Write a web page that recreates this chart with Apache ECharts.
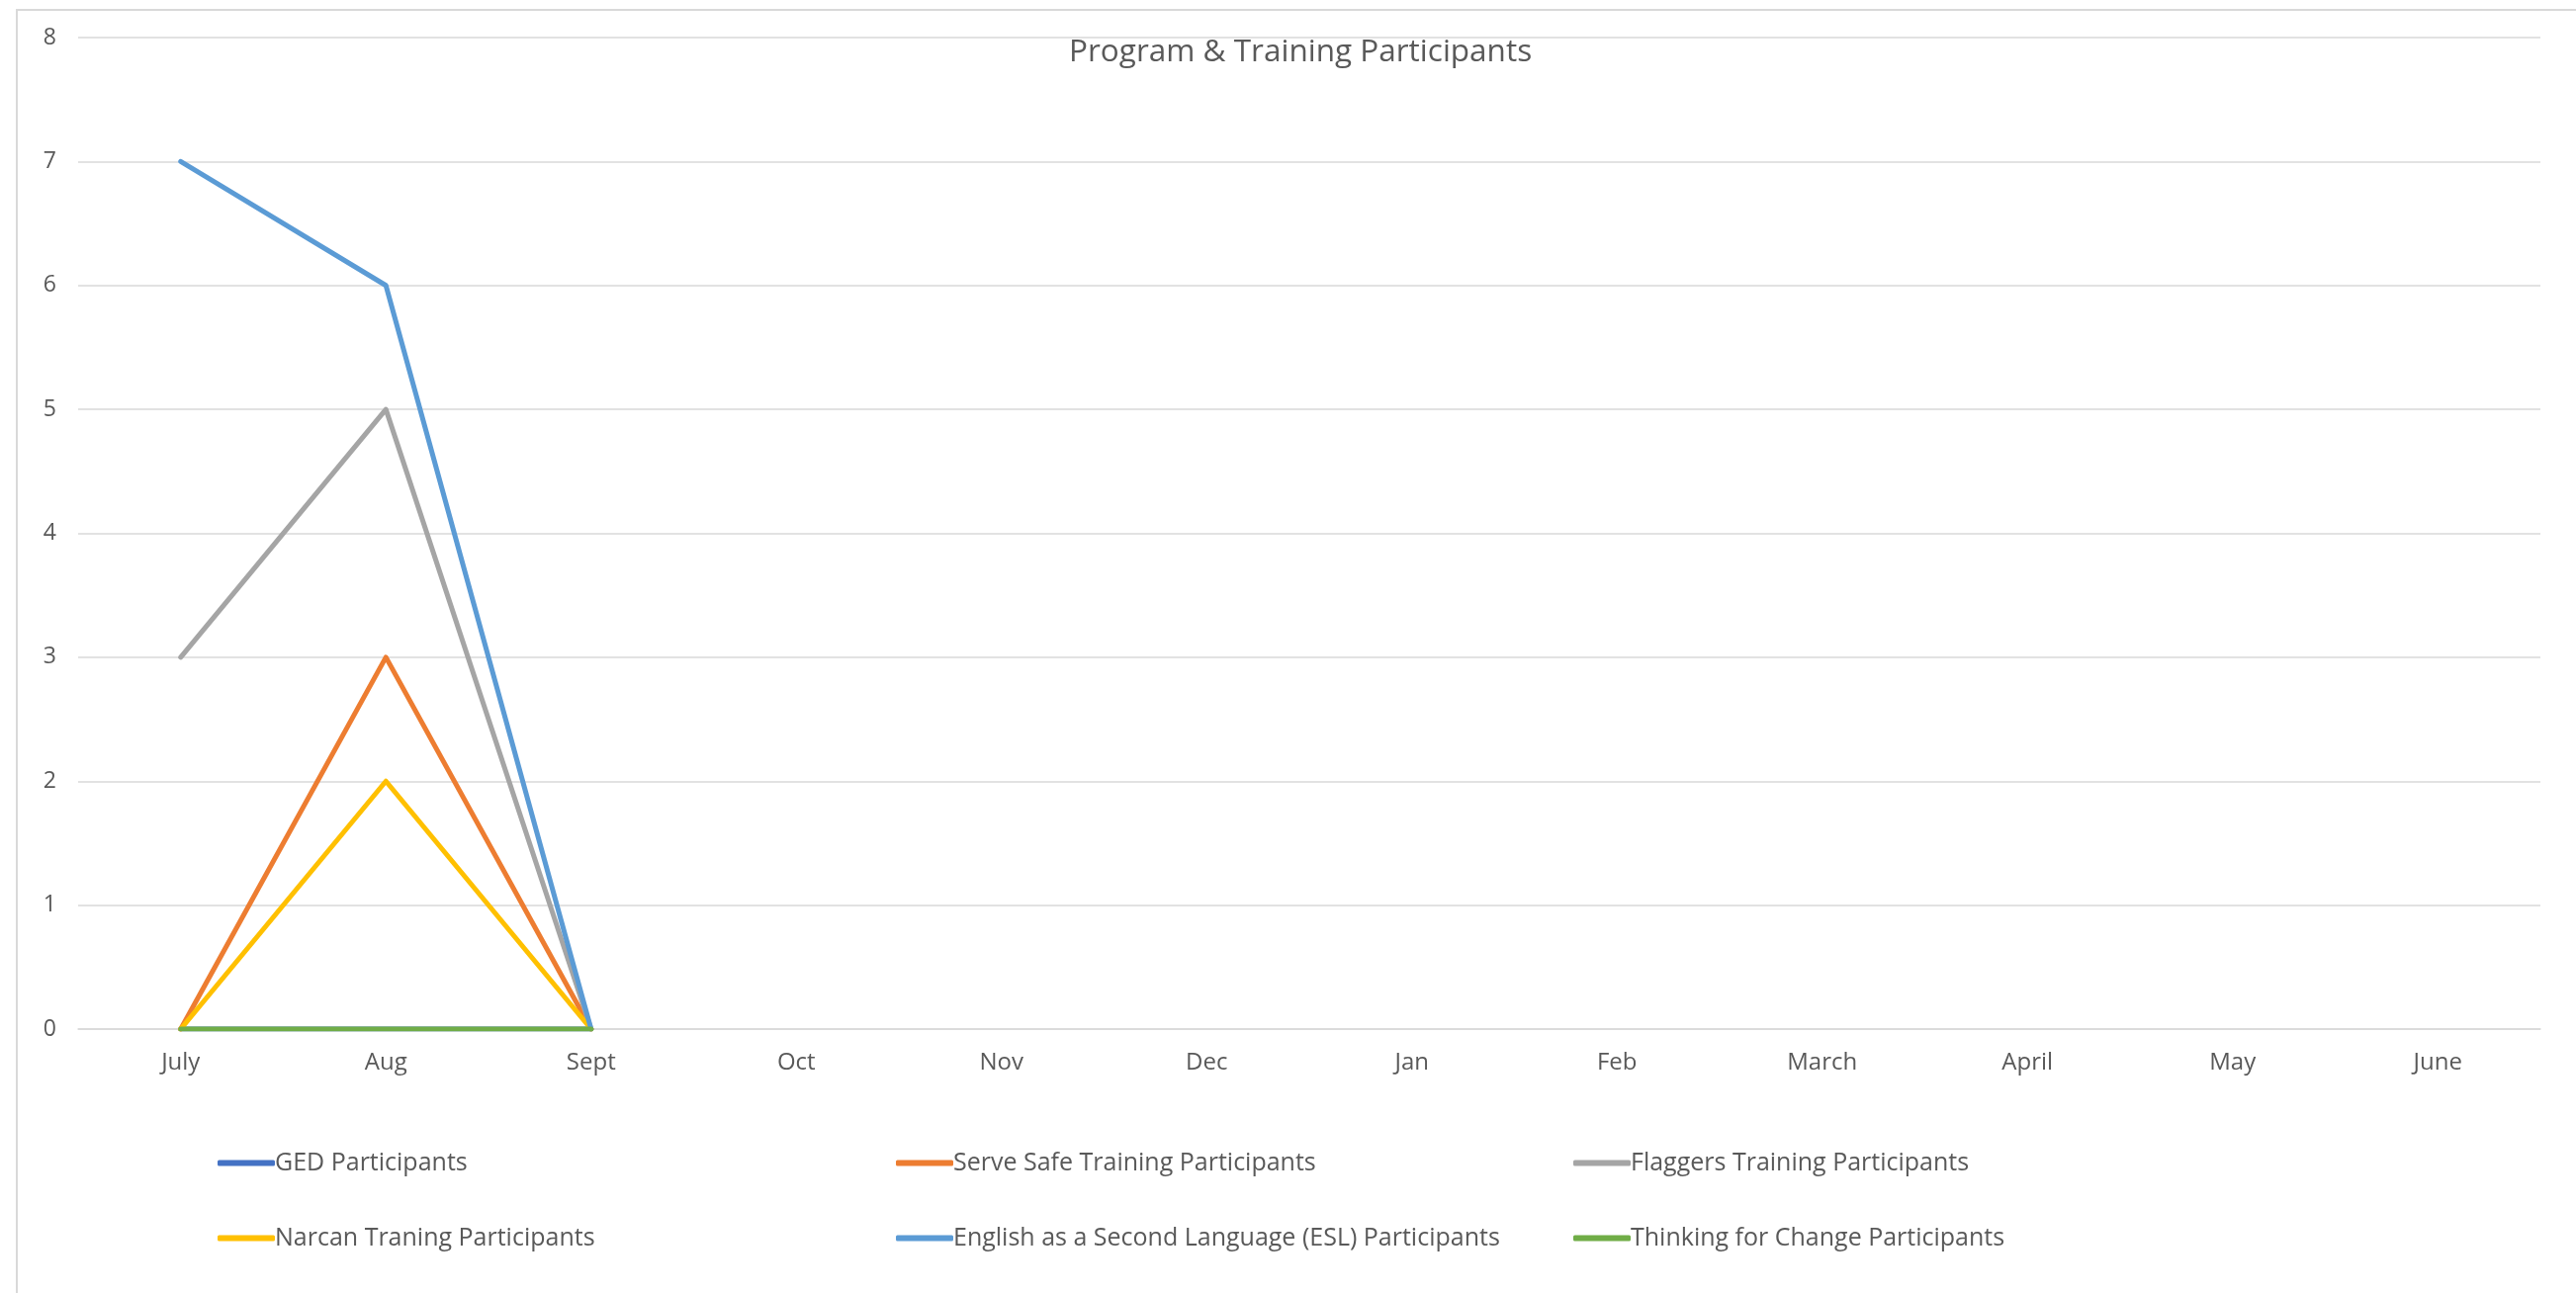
<!DOCTYPE html>
<html>
<head>
<meta charset="utf-8">
<script src="https://cdn.jsdelivr.net/npm/echarts@6/dist/echarts.min.js"></script>
<style>
    html, body { margin: 0; padding: 0; background: #fff; }
    #chart { width: 2605px; height: 1308px; }
</style>
</head>
<body>
<div id="chart"></div>
<script>
    // chart data
    var months = ['July', 'Aug', 'Sept', 'Oct', 'Nov', 'Dec', 'Jan', 'Feb', 'March', 'April', 'May', 'June'];
    var yTicks = [0, 1, 2, 3, 4, 5, 6, 7, 8];

    var gedParticipants = [0, 0, 0];
    var serveSafe = [0, 3, 0];
    var flaggers = [3, 5, 0];
    var narcan = [0, 2, 0];
    var esl = [7, 6, 0];
    var thinkingForChange = [0, 0, 0];

    var seriesNames = [
        'GED Participants',
        'Serve Safe Training Participants',
        'Flaggers Training Participants',
        'Narcan Traning Participants',
        'English as a Second Language (ESL) Participants',
        'Thinking for Change Participants'
    ];
    var seriesData = [gedParticipants, serveSafe, flaggers, narcan, esl, thinkingForChange];
    var lineColors = ['#4472C4', '#ED7D31', '#A5A5A5', '#FFC000', '#5B9BD5', '#70AD47'];

    var font = '"Open Sans", Lato, sans-serif';
    var textColor = '#595959';

    var myChart = echarts.init(document.getElementById('chart'));

    var series = seriesNames.map(function (name, i) {
        return {
            name: name,
            type: 'line',
            data: seriesData[i],
            symbol: 'none',
            lineStyle: { width: 5, color: lineColors[i], cap: 'round', join: 'round' },
            itemStyle: { color: lineColors[i] },
            emphasis: { disabled: true }
        }
    })

    // legend laid out as 3 columns of 2 rows
    var legendCols = [215, 901, 1586];
    var legends = legendCols.map(function (left, c) {
        return {
            orient: 'vertical',
            left: left,
            top: 1159,
            itemWidth: 58,
            itemHeight: 6,
            itemGap: 51,
            icon: 'roundRect',
            data: [seriesNames[c], seriesNames[c + 3]],
            textStyle: {
                color: textColor,
                fontFamily: font,
                fontSize: 25,
                lineHeight: 25,
                padding: [0, 0, 0, -5]
            }
        }
    })

    var options = {
        animation: false,
        color: lineColors,
        title: {
            text: 'Program & Training Participants',
            left: 1076,
            top: 32,
            textStyle: {
                color: textColor,
                fontFamily: font,
                fontSize: 31.5,
                fontWeight: 'normal'
            }
        },
        graphic: [{
            type: 'rect',
            shape: { x: 17, y: 10, width: 2620, height: 1320 },
            style: { fill: 'none', stroke: '#d9d9d9', lineWidth: 2 },
            silent: true,
            z: -10
        }],
        grid: {
            left: 79,
            right: 36,
            top: 38,
            bottom: 267,
            containLabel: false
        },
        legend: legends,
        xAxis: {
            type: 'category',
            boundaryGap: true,
            data: months,
            axisLine: { show: true, lineStyle: { color: '#d9d9d9', width: 1.5 } },
            axisTick: { show: false },
            axisLabel: {
                color: textColor,
                fontFamily: font,
                fontSize: 24,
                margin: 22
            }
        },
        yAxis: {
            type: 'value',
            min: yTicks[0],
            max: yTicks[yTicks.length - 1],
            interval: 1,
            axisLine: { show: false },
            axisTick: { show: false },
            axisLabel: {
                color: textColor,
                fontFamily: font,
                fontSize: 23,
                margin: 22
            },
            splitLine: {
                show: true,
                lineStyle: { color: '#d9d9d9', width: 1.5 }
            }
        },
        series: series
    }

    myChart.setOption(options);
    window.addEventListener('resize', myChart.resize);
</script>
</body>
</html>
